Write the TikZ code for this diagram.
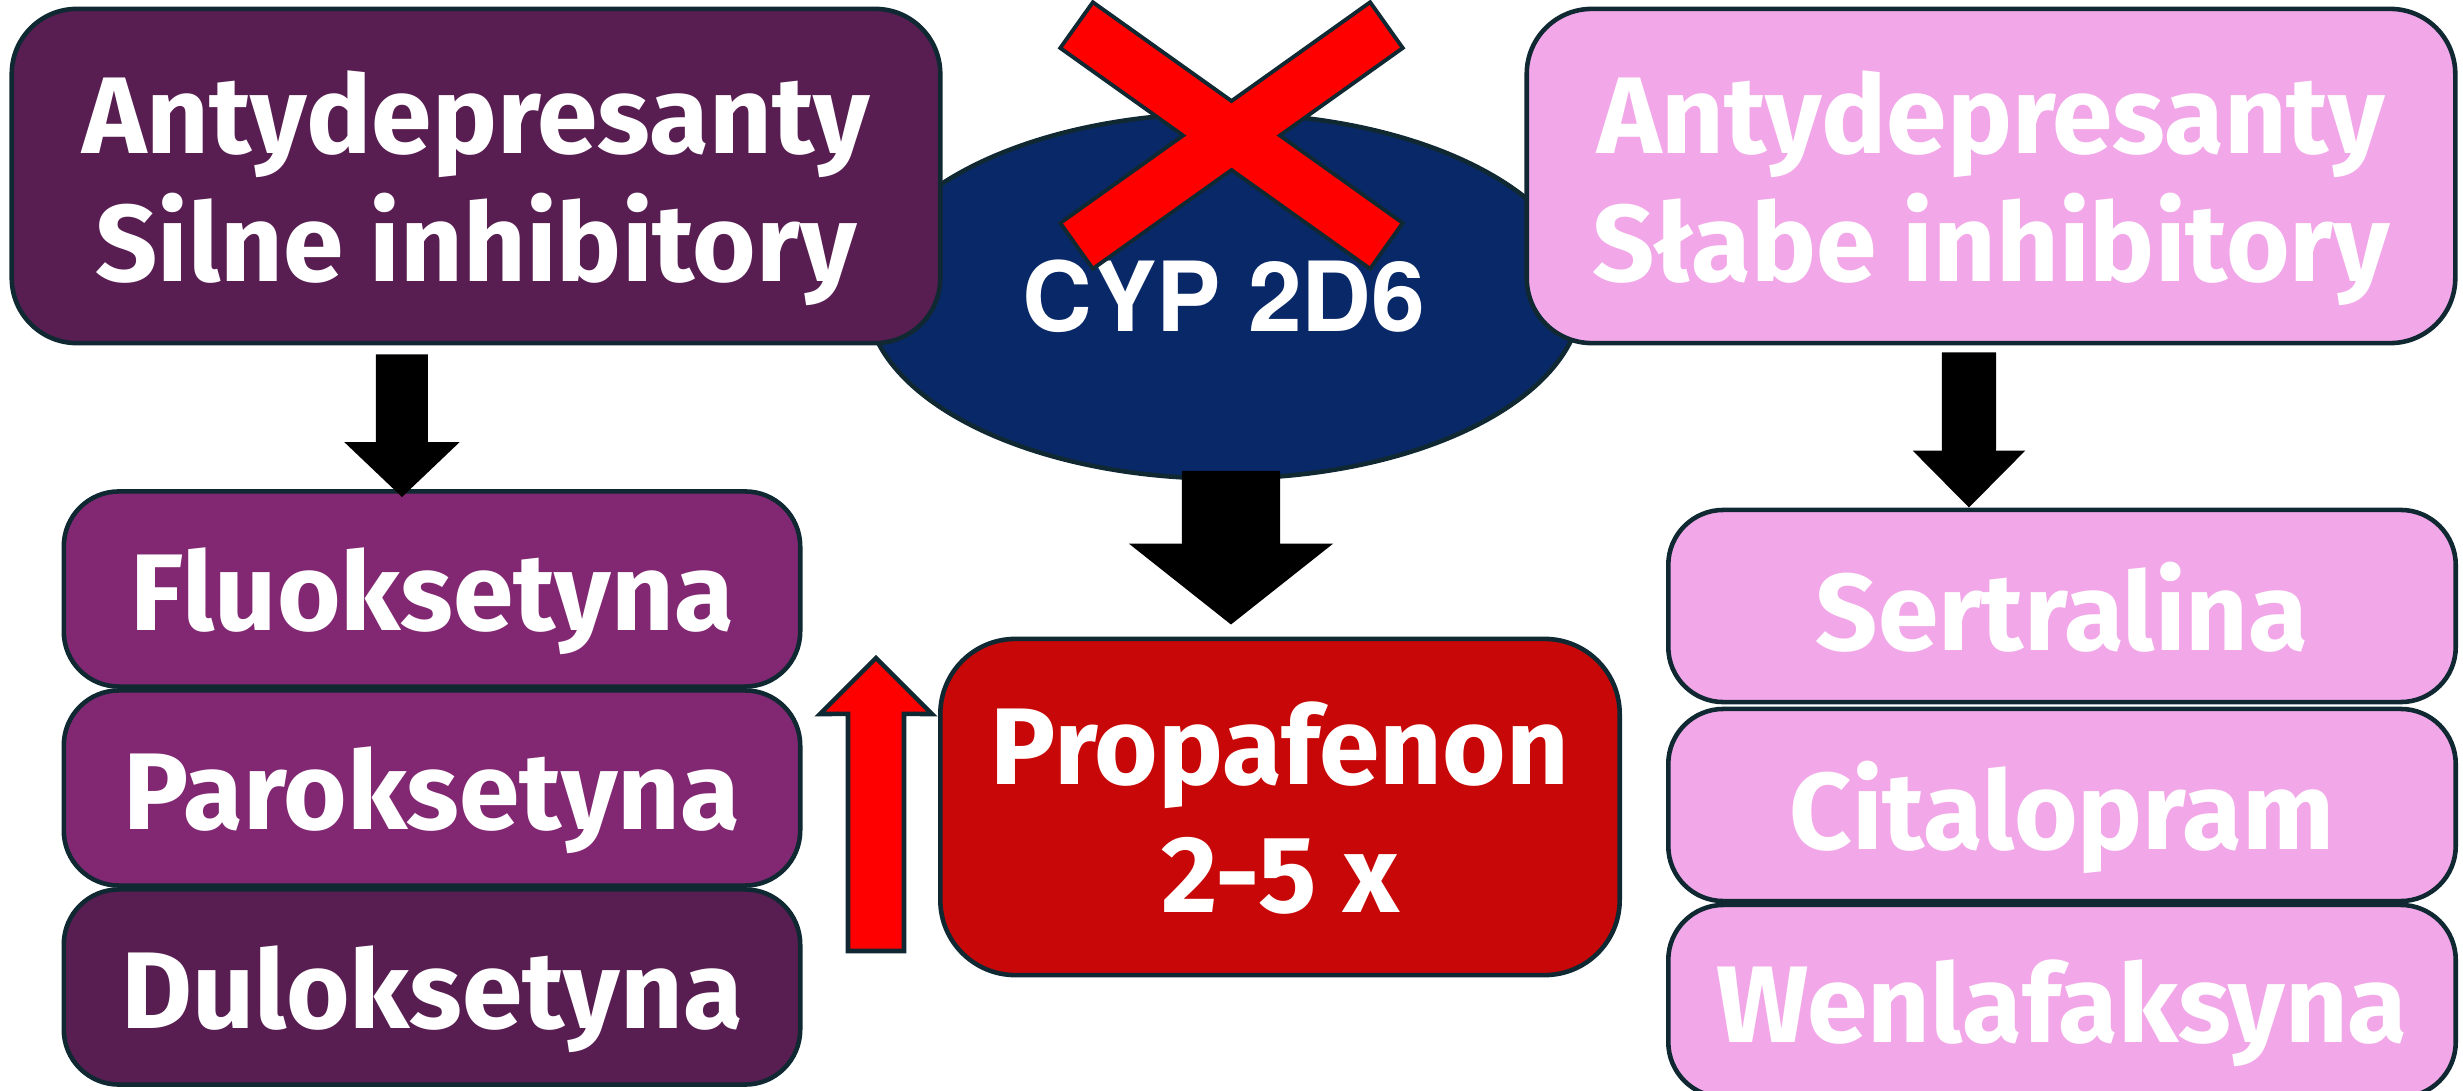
\documentclass[tikz,border=0pt]{standalone}
\usepackage{fontspec}
\setmainfont{Fira Sans}
\newfontfamily\cypfont{texgyreheros}[Extension=.otf, UprightFont=*-regular, BoldFont=*-bold]
\usetikzlibrary{shapes.geometric,arrows.meta}
\definecolor{plumdark}{RGB}{88,30,82}
\definecolor{plummid}{RGB}{130,40,115}
\definecolor{pinklight}{RGB}{242,168,232}
\definecolor{navycyp}{RGB}{8,40,104}
\definecolor{redprop}{RGB}{200,8,8}
\definecolor{edgedark}{RGB}{15,40,50}
\definecolor{redup}{RGB}{255,0,0}

\tikzset{
  drugbox/.style={draw=edgedark, line width=1.3pt, rounded corners=0.55cm,
    text=white, align=center, inner sep=0pt, text depth=0pt,
    font=\fontsize{31}{36.5}\selectfont\bfseries},
  headbox/.style={drugbox, rounded corners=0.65cm, minimum width=9.28cm, minimum height=3.34cm},
  leftbox/.style={drugbox, minimum width=7.36cm, minimum height=1.95cm},
  rightbox/.style={drugbox, fill=pinklight, minimum width=7.87cm, minimum height=1.92cm},
  xbar/.style={line width=0.6cm, edgedark},
  xfill/.style={line width=0.52cm, redup, shorten <=0.04cm, shorten >=0.04cm},
}

\begin{document}
\begin{tikzpicture}[x=0.01cm, y=-0.01cm]
    \useasboundingbox (0,0) rectangle (2463,1091);

    % Enzyme in the middle
    \node[ellipse, fill=navycyp, draw=edgedark, line width=1.3pt, inner sep=0pt,
      minimum width=7.15cm, minimum height=3.65cm, text=white,
      font=\cypfont\fontsize{27.5}{30}\selectfont\bfseries] (cyp) at (1224,296) {CYP 2D6};

    % Header boxes
    \node[headbox, fill=plumdark] (strong) at (476,176) {Antydepresanty\\Silne inhibitory};
    \node[headbox, fill=pinklight] (weak) at (1991,176) {Antydepresanty\\Słabe inhibitory};

    % Strong inhibitors
    \node[leftbox, fill=plummid] (fluo) at (432,589) {Fluoksetyna};
    \node[leftbox, fill=plummid] (paro) at (432,788) {Paroksetyna};
    \node[leftbox, fill=plumdark] (dulo) at (432,987) {Duloksetyna};

    % Weak inhibitors
    \node[rightbox] (sert) at (2062,606) {Sertralina};
    \node[rightbox] (cita) at (2062,805) {Citalopram};
    \node[rightbox] (wenl) at (2062,1001) {Wenlafaksyna};

    % Substrate
    \node[drugbox, fill=redprop, rounded corners=0.75cm, minimum width=6.79cm,
      minimum height=3.36cm] (prop) at (1280,807) {Propafenon\\2-5 x};

    % Black arrows
    \draw[black, line width=0.52cm, -{Triangle[length=0.55cm,width=1.12cm]}]
      ([xshift=-0.74cm,yshift=-0.09cm]strong.south) -- ([xshift=-0.30cm,yshift=-0.08cm]fluo.north);
    \draw[black, line width=0.54cm, -{Triangle[length=0.57cm,width=1.09cm]}]
      ([xshift=-0.22cm,yshift=-0.07cm]weak.south) -- ([xshift=-0.93cm]sert.north);
    \draw[black, line width=0.98cm, -{Triangle[length=0.81cm,width=2.0cm]}]
      ([xshift=0.07cm,yshift=0.1cm]cyp.south) -- ([xshift=-0.49cm,yshift=0.12cm]prop.north);

    % Red up arrow
    \coordinate (upfoot) at (876,951);
    \coordinate (uptip) at (876,658);
    \filldraw[fill=redup, draw=edgedark, line width=1.3pt]
      ([xshift=-0.28cm]upfoot) -- ([xshift=-0.28cm,yshift=2.37cm]upfoot)
      -- ([xshift=-0.56cm,yshift=-0.56cm]uptip) -- (uptip)
      -- ([xshift=0.56cm,yshift=-0.56cm]uptip) -- ([xshift=0.28cm,yshift=2.37cm]upfoot)
      -- ([xshift=0.28cm]upfoot) -- cycle;

    % Red cross over the enzyme
    \draw[xbar] (1075,24) -- (1388,247);
    \draw[xbar] (1388,24) -- (1075,247);
    \draw[xfill] (1075,24) -- (1388,247);
    \draw[xfill] (1388,24) -- (1075,247);
\end{tikzpicture}
\end{document}
